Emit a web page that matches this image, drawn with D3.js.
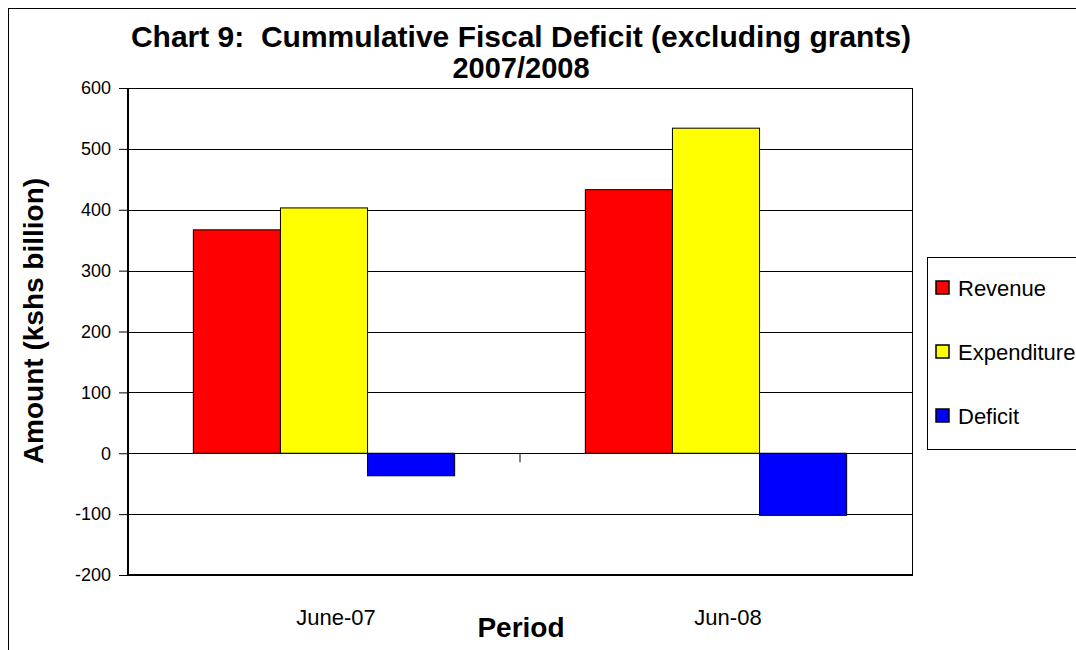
<!DOCTYPE html>
<html><head><meta charset="utf-8">
<script src="https://cdn.jsdelivr.net/npm/d3@7"></script>
<style>body{margin:0;background:#fff}svg text{font-family:"Liberation Sans",Arial,sans-serif;fill:#000}</style>
</head><body><svg id="c" width="1076" height="650"></svg>
<script>
const categories = ["June-07", "Jun-08"];
const seriesNames = ["Revenue", "Expenditure", "Deficit"];
const revenue = [367, 433];
const expenditure = [403, 534];
const deficit = [-37, -102];
const colors = ["#ff0000", "#ffff00", "#0000ff"];
const yTicks = [-200, -100, 0, 100, 200, 300, 400, 500, 600];

const seriesVals = [revenue, expenditure, deficit];
const svg = d3.select("#c");
const L = 128, R = 912, T = 88, B = 575;

svg.append("rect").attr("x", 8.5).attr("y", 8.5).attr("width", 1200).attr("height", 800)
  .attr("fill", "none").attr("stroke", "#000").attr("stroke-width", 1);

const x = d3.scaleBand().domain(categories).range([L, R]);
const bw = x.bandwidth() / 4.5;
const y = d3.scaleLinear().domain([-200, 600]).range([B, T]);

// gridlines
svg.append("g").selectAll("line").data(yTicks).join("line")
  .attr("x1", L).attr("x2", R).attr("y1", d => Math.round(y(d)) + 0.5).attr("y2", d => Math.round(y(d)) + 0.5)
  .attr("stroke", "#000").attr("stroke-width", 1);

// bars
categories.forEach((c, ci) => {
  seriesVals.forEach((s, si) => {
    const v = s[ci];
    const x0 = x(c) + bw * 0.75 + si * bw;
    svg.append("rect")
      .attr("x", x0).attr("width", bw)
      .attr("y", y(Math.max(0, v))).attr("height", Math.abs(y(v) - y(0)))
      .attr("fill", colors[si]).attr("stroke", "#000").attr("stroke-width", 1);
  });
});

// plot border
svg.append("line").attr("x1", L).attr("x2", R).attr("y1", T + 0.5).attr("y2", T + 0.5).attr("stroke", "#000");
svg.append("line").attr("x1", R + 0.5).attr("x2", R + 0.5).attr("y1", T).attr("y2", B).attr("stroke", "#000");

// y axis
const yAxis = d3.axisLeft(y).tickValues(yTicks).tickSize(9).tickPadding(8).tickFormat(d => String(d));
const ga = svg.append("g").attr("transform", `translate(${L},0)`).call(yAxis);
ga.attr("font-family", null).attr("font-size", null);
ga.select(".domain").attr("stroke-width", 2).attr("d", `M0,${T}V${B}`);
ga.selectAll("text").attr("font-size", 18);
ga.selectAll(".tick line").attr("stroke", "#000");

// x axis baseline & middle tick
svg.append("line").attr("x1", L - 1).attr("x2", R + 1).attr("y1", B).attr("y2", B).attr("stroke", "#000").attr("stroke-width", 2);
svg.append("line").attr("x1", x(categories[1])).attr("x2", x(categories[1]))
  .attr("y1", y(0)).attr("y2", y(0) + 9).attr("stroke", "#000");

// category labels
svg.append("g").selectAll("text").data(categories).join("text")
  .attr("x", d => x(d) + x.bandwidth() / 2 + 12).attr("y", 625)
  .attr("text-anchor", "middle").attr("font-size", 22).text(d => d);

svg.append("text").attr("x", 521).attr("y", 637).attr("text-anchor", "middle")
  .attr("font-size", 28).attr("font-weight", "bold").text("Period");

svg.append("text").attr("transform", "translate(43,321) rotate(-90)").attr("text-anchor", "middle")
  .attr("font-size", 28).attr("font-weight", "bold").text("Amount (kshs billion)");

svg.append("text").attr("x", 521).attr("y", 47).attr("text-anchor", "middle")
  .attr("font-size", 30).attr("font-weight", "bold").attr("xml:space", "preserve")
  .text("Chart 9:  Cummulative Fiscal Deficit (excluding grants)");
svg.append("text").attr("x", 521).attr("y", 78).attr("text-anchor", "middle")
  .attr("font-size", 29).attr("font-weight", "bold").text("2007/2008");

// legend
svg.append("rect").attr("x", 927.5).attr("y", 257.5).attr("width", 200).attr("height", 192)
  .attr("fill", "#fff").attr("stroke", "#000");
const lg = svg.append("g").selectAll("g").data(seriesNames).join("g")
  .attr("transform", (d, i) => `translate(936,${288 + i * 64})`);
lg.append("rect").attr("x", 0).attr("y", -7).attr("width", 13).attr("height", 13)
  .attr("fill", (d, i) => colors[i]).attr("stroke", "#000").attr("stroke-width", 1.5);
lg.append("text").attr("x", 22).attr("y", 8).attr("font-size", 22).text(d => d);
</script></body></html>
